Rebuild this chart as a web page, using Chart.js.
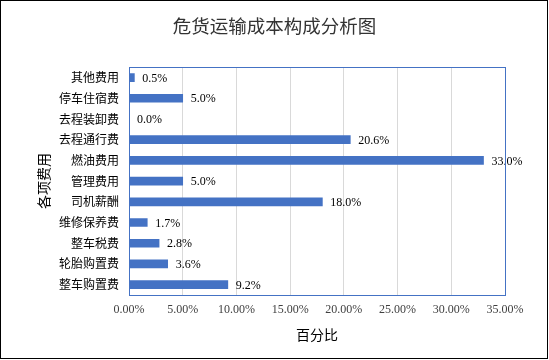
<!DOCTYPE html>
<html>
<head>
<meta charset="utf-8">
<script src="https://cdn.jsdelivr.net/npm/chart.js@4/dist/chart.umd.min.js"></script>
<style>
  body { margin: 0; background: #fff; }
  #box { width: 549px; height: 360px; }
</style>
</head>
<body>
<div id="box"><canvas id="grafica"></canvas></div>
<script>
// categorias (de arriba hacia abajo) y porcentajes
var categorias = ["其他费用", "停车住宿费", "去程装卸费", "去程通行费", "燃油费用", "管理费用", "司机薪酬", "维修保养费", "整车税费", "轮胎购置费", "整车购置费"];
var porcentajes = [0.5, 5.0, 0.0, 20.6, 33.0, 5.0, 18.0, 1.7, 2.8, 3.6, 9.2];
var ejeX = { min: 0, max: 35, paso: 5 };
var titulo = "危货运输成本构成分析图";
var tituloY = "各项费用";
var tituloX = "百分比";

var serif = "'Liberation Serif', 'Times New Roman', serif";
var cjk = "'Noto Sans CJK SC', sans-serif";

// fondo blanco y marco exterior negro
var marco = {
  id: 'marco',
  beforeDraw: function(chart) {
    var ctx = chart.ctx;
    ctx.save();
    ctx.fillStyle = '#fff';
    ctx.fillRect(0, 0, chart.width, chart.height);
    ctx.restore();
  },
  afterDraw: function(chart) {
    var ctx = chart.ctx;
    var a = chart.chartArea;
    ctx.save();
    ctx.strokeStyle = '#4472C4';
    ctx.lineWidth = 1;
    ctx.strokeRect(Math.round(a.left) + 0.5, Math.round(a.top) + 0.5, Math.round(a.right - a.left), Math.round(a.bottom - a.top));
    ctx.strokeStyle = '#000';
    ctx.strokeRect(0.5, 0.5, 547, 358);
    ctx.restore();
  }
};

// etiquetas de valor al final de cada barra
var etiquetas = {
  id: 'etiquetas',
  afterDatasetsDraw: function(chart) {
    var ctx = chart.ctx;
    var meta = chart.getDatasetMeta(0);
    ctx.save();
    ctx.font = "12px " + serif;
    ctx.fillStyle = '#000';
    ctx.textAlign = 'left';
    ctx.textBaseline = 'middle';
    meta.data.forEach(function(bar, i) {
      ctx.fillText(porcentajes[i].toFixed(1) + '%', bar.x + 8, bar.y + 1);
    });
    ctx.restore();
  }
};

var graph = document.getElementById("grafica");
var barChart = new Chart(graph, {
  type: 'bar',
  data: {
    labels: categorias,
    datasets: [{
      data: porcentajes,
      backgroundColor: '#4472C4',
      barThickness: 8
    }]
  },
  plugins: [marco, etiquetas],
  options: {
    indexAxis: 'y',
    responsive: true,
    maintainAspectRatio: false,
    animation: false,
    layout: { padding: 0 },
    plugins: {
      legend: { display: false },
      tooltip: { enabled: false },
      title: {
        display: true,
        text: titulo,
        color: '#333',
        font: { family: cjk, size: 18.5, weight: 'normal', lineHeight: 1.2 },
        padding: { top: 15, bottom: 30 }
      }
    },
    scales: {
      x: {
        min: ejeX.min,
        max: ejeX.max,
        afterFit: function(scale) { scale.height = 65; },
        ticks: {
          stepSize: ejeX.paso,
          padding: 8,
          color: '#404040',
          font: { family: serif, size: 12 },
          callback: function(v) { return v.toFixed(2) + '%'; }
        },
        grid: { color: '#D9D9D9', drawTicks: false },
        border: { display: false },
        title: {
          display: true,
          text: tituloX,
          color: '#000',
          font: { family: cjk, size: 14 },
          padding: { top: 0, bottom: 17 }
        }
      },
      y: {
        afterFit: function(scale) { scale.width = 129; },
        ticks: {
          padding: 10,
          color: '#000',
          font: { family: cjk, size: 12 }
        },
        grid: { display: false, drawTicks: false },
        border: { display: false },
        title: {
          display: true,
          text: tituloY,
          color: '#000',
          font: { family: cjk, size: 14 },
          padding: { top: 35, bottom: 0 }
        }
      },
      // espacio vacio a la derecha del area de trazado
      derecha: {
        axis: 'y',
        position: 'right',
        afterFit: function(scale) { scale.width = 44; },
        ticks: { display: false },
        grid: { display: false, drawTicks: false },
        border: { display: false }
      }
    }
  }
});
</script>
</body>
</html>
